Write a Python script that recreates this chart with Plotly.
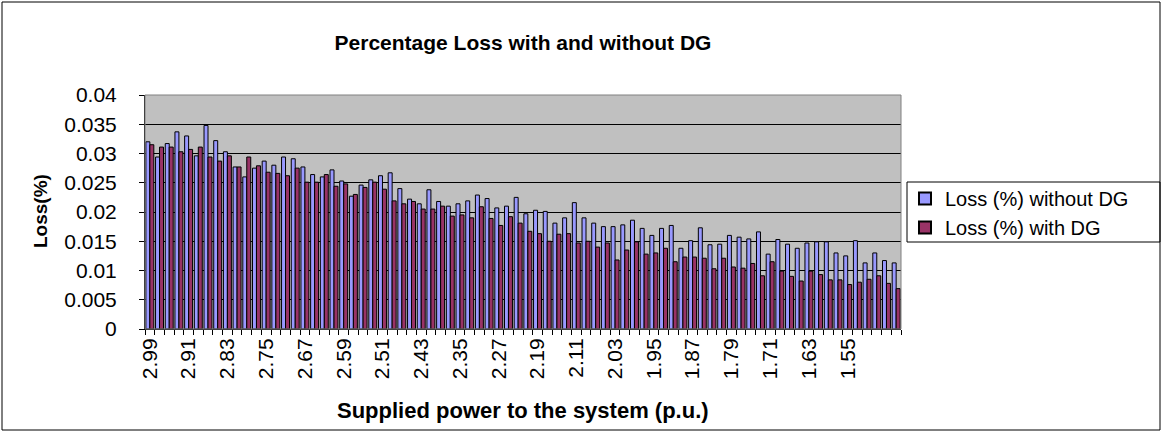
import plotly.graph_objects as go

categories = ["2.99", "2.97", "2.95", "2.93", "2.91", "2.89", "2.87", "2.85", "2.83", "2.81",
              "2.79", "2.77", "2.75", "2.73", "2.71", "2.69", "2.67", "2.65", "2.63", "2.61",
              "2.59", "2.57", "2.55", "2.53", "2.51", "2.49", "2.47", "2.45", "2.43", "2.41",
              "2.39", "2.37", "2.35", "2.33", "2.31", "2.29", "2.27", "2.25", "2.23", "2.21",
              "2.19", "2.17", "2.15", "2.13", "2.11", "2.09", "2.07", "2.05", "2.03", "2.01",
              "1.99", "1.97", "1.95", "1.93", "1.91", "1.89", "1.87", "1.85", "1.83", "1.81",
              "1.79", "1.77", "1.75", "1.73", "1.71", "1.69", "1.67", "1.65", "1.63", "1.61",
              "1.59", "1.57", "1.55", "1.53", "1.51", "1.49", "1.47", "1.45"]

loss_without_dg = [0.0320, 0.0294, 0.0317, 0.0337, 0.0330, 0.0296, 0.0348, 0.0322, 0.0303, 0.0277,
                   0.0260, 0.0275, 0.0287, 0.0280, 0.0294, 0.0291, 0.0277, 0.0264, 0.0260, 0.0272,
                   0.0253, 0.0227, 0.0246, 0.0255, 0.0262, 0.0267, 0.0240, 0.0222, 0.0214, 0.0238,
                   0.0218, 0.0210, 0.0214, 0.0219, 0.0229, 0.0223, 0.0207, 0.0210, 0.0225, 0.0197,
                   0.0203, 0.0201, 0.0181, 0.0190, 0.0216, 0.0190, 0.0181, 0.0175, 0.0175, 0.0178,
                   0.0186, 0.0172, 0.0160, 0.0172, 0.0177, 0.0138, 0.0151, 0.0173, 0.0144, 0.0145,
                   0.0160, 0.0157, 0.0154, 0.0166, 0.0128, 0.0153, 0.0145, 0.0138, 0.0147, 0.0149,
                   0.0149, 0.0130, 0.0125, 0.0151, 0.0113, 0.0130, 0.0117, 0.0113]

loss_with_dg = [0.0315, 0.0311, 0.0311, 0.0303, 0.0307, 0.0311, 0.0294, 0.0287, 0.0296, 0.0277,
                0.0294, 0.0279, 0.0268, 0.0266, 0.0262, 0.0275, 0.0251, 0.0251, 0.0264, 0.0244,
                0.0248, 0.0230, 0.0242, 0.0251, 0.0239, 0.0219, 0.0214, 0.0218, 0.0205, 0.0205,
                0.0210, 0.0193, 0.0195, 0.0190, 0.0209, 0.0189, 0.0177, 0.0192, 0.0181, 0.0167,
                0.0163, 0.0150, 0.0162, 0.0163, 0.0147, 0.0150, 0.0140, 0.0147, 0.0118, 0.0135,
                0.0149, 0.0128, 0.0130, 0.0138, 0.0115, 0.0123, 0.0123, 0.0121, 0.0103, 0.0121,
                0.0106, 0.0104, 0.0112, 0.0091, 0.0115, 0.0099, 0.0090, 0.0082, 0.0099, 0.0093,
                0.0084, 0.0084, 0.0076, 0.0080, 0.0085, 0.0091, 0.0078, 0.0069]

x_tick_labels = ["2.99", "2.91", "2.83", "2.75", "2.67", "2.59", "2.51", "2.43", "2.35", "2.27",
                 "2.19", "2.11", "2.03", "1.95", "1.87", "1.79", "1.71", "1.63", "1.55"]

y_tick_values = [0, 0.005, 0.01, 0.015, 0.02, 0.025, 0.03, 0.035, 0.04]
y_tick_labels = ["0", "0.005", "0.01", "0.015", "0.02", "0.025", "0.03", "0.035", "0.04"]

FONT = "Liberation Sans, Arial, sans-serif"

fig = go.Figure()
fig.add_trace(go.Bar(
    x=categories, y=loss_without_dg, name="Loss (%) without DG",
    marker=dict(color="#9999FF", line=dict(color="black", width=1)),
))
fig.add_trace(go.Bar(
    x=categories, y=loss_with_dg, name="Loss (%) with DG",
    marker=dict(color="#993366", line=dict(color="black", width=1)),
))

ticktext = [c if c in x_tick_labels else "" for c in categories]

W, H = 1163, 432
L, R, T, B = 145, 262, 95, 103
pw, ph = W - L - R, H - T - B

def px_x(p):
    return (p - L) / pw

def px_y(p):
    return (H - B - p) / ph

fig.update_layout(
    width=W, height=H,
    margin=dict(l=L, r=R, t=T, b=B, pad=0),
    paper_bgcolor="white",
    plot_bgcolor="#C0C0C0",
    barmode="group",
    bargap=0.18,
    bargroupgap=0,
    font=dict(family=FONT, color="black"),
    title=dict(text="<b>Percentage Loss with and without DG</b>",
               x=0.5, xref="paper", xanchor="center",
               y=1 - 43 / H, yref="container", yanchor="middle",
               font=dict(size=21, family=FONT, color="black")),
    legend=dict(x=px_x(905), y=px_y(179), xanchor="left", yanchor="top",
                bgcolor="rgba(0,0,0,0)", borderwidth=0,
                font=dict(size=20, family=FONT, color="black"),
                tracegroupgap=0, itemsizing="constant"),
    xaxis=dict(type="category", tickmode="array", tickvals=categories, ticktext=ticktext,
               tickangle=-90, tickson="boundaries", ticks="outside", ticklen=5,
               tickcolor="black", showline=True, linecolor="black", linewidth=1,
               showgrid=False, tickfont=dict(size=21, family=FONT, color="black")),
    yaxis=dict(range=[0, 0.04], tickmode="array", tickvals=y_tick_values,
               ticktext=y_tick_labels, ticks="outside", ticklen=5, tickcolor="black",
               showline=True, linecolor="black", linewidth=1,
               showgrid=True, gridcolor="black", gridwidth=1, zeroline=False,
               tickfont=dict(size=21, family=FONT, color="black"),
               ticklabelstandoff=18),
    annotations=[
        dict(text="<b>Loss(%)</b>", xref="paper", yref="paper",
             x=px_x(40), y=px_y(211), textangle=-90, showarrow=False,
             xanchor="center", yanchor="middle",
             font=dict(size=19, family=FONT, color="black")),
        dict(text="<b>Supplied power to the system (p.u.)</b>", xref="paper", yref="paper",
             x=0.5, y=px_y(410), showarrow=False, xanchor="center", yanchor="middle",
             font=dict(size=22, family=FONT, color="black")),
    ],
    shapes=[
        dict(type="rect", xref="paper", yref="paper", x0=0, x1=1, y0=0, y1=1,
             line=dict(color="#808080", width=1), layer="above"),
        dict(type="rect", xref="paper", yref="paper",
             x0=px_x(907), x1=px_x(1160), y0=px_y(242), y1=px_y(182),
             line=dict(color="black", width=1), layer="above"),
        dict(type="rect", xref="paper", yref="paper",
             x0=px_x(2), x1=px_x(1160), y0=px_y(430), y1=px_y(2),
             line=dict(color="black", width=1), layer="above"),
    ],
)

fig.write_html("out.html", config={"displayModeBar": False},
               post_script="document.body.style.margin='0';document.body.style.padding='0';")
